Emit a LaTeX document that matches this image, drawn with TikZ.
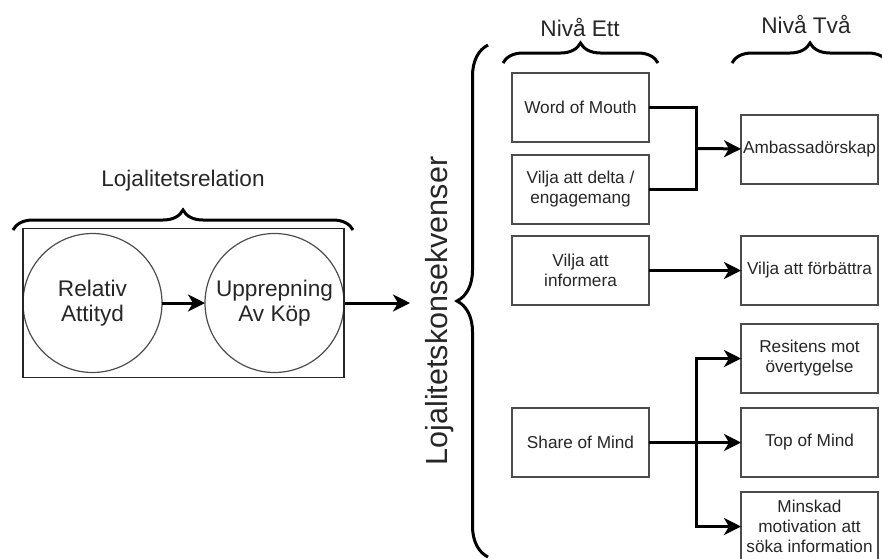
\documentclass[tikz,border=0pt]{standalone}
\usepackage{fontspec}
\setmainfont{Liberation Sans}
\usepackage{xcolor}
\usepackage{tikz}
\usetikzlibrary{arrows.meta,positioning,fit,calc,decorations.pathreplacing}
\tikzset{
  lvlbox/.style={draw=black!70, line width=1.2pt, align=center, minimum width=137pt, minimum height=69pt, inner sep=2pt, outer sep=0pt, text=black!85, font=\fontsize{17.2}{20}\selectfont},
  stage/.style={circle, draw=black!70, line width=1.2pt, align=center, minimum size=139pt, inner sep=0pt, outer sep=0pt, text=black!85, font=\fontsize{22.6}{25}\selectfont},
  groupframe/.style={draw=black!85, line width=1.2pt, inner xsep=0pt, inner ysep=5pt},
  heading/.style={text=black!85, font=\fontsize{22.6}{26}\selectfont},
  link/.style={line width=3pt},
  arrow/.style={-{Stealth[length=17pt, width=17pt, inset=5pt]}, line width=3pt},
  bracket/.style={decorate, decoration={brace, amplitude=#1}, line width=3pt},
  bracket/.default=20pt
}

\begin{document}
\begin{tikzpicture}[x=1pt, y=-1pt]
  \useasboundingbox (0,0) rectangle (882,558);
  \clip (0,0) rectangle (882,558);

  % loyalty relation
  \node[stage] (attityd) at (92.5,303) {Relativ\\Attityd};
  \node[stage, right=43pt of attityd] (kop) {Upprepning\\Av Köp};
  \node[groupframe, fit=(attityd)(kop)] (relbox) {};
  \node[heading] (relation) at (183,181) {Lojalitetsrelation};
  \draw[bracket] (13,230) -- (353,230);

  \draw[arrow] (attityd) -- (kop);
  \coordinate (into) at (410,303);
  \draw[arrow] (relbox) -- (into);

  % consequences
  \node[heading, rotate=90, font=\fontsize{30.5}{34}\selectfont] (konsek) at (440,311) {Lojalitetskonsekvenser};
  \draw[bracket=31pt] (488,557) -- (488,45);

  \node[heading] (ett) at (580,27) {Nivå Ett};
  \node[heading] (tva) at (806,24) {Nivå Två};
  \draw[bracket] (503,63) -- (658,63);
  \draw[bracket] (732,63) -- (888,63);

  % level one
  \node[lvlbox] (wom) at (580.5,107.5) {Word of Mouth};
  \node[lvlbox, below=13pt of wom] (delta) {Vilja att delta /\\engagemang};
  \node[lvlbox, below=12pt of delta] (informera) {Vilja att\\informera};
  \node[lvlbox, below=103pt of informera] (share) {Share of Mind};

  % level two
  \node[lvlbox, right=92pt of informera] (forbattra) {Vilja att förbättra};
  \node[lvlbox, above=52pt of forbattra] (ambassad) {Ambassadörskap};
  \node[lvlbox, right=92pt of share] (topmind) {Top of Mind};
  \node[lvlbox, above=15pt of topmind] (resitens) {Resitens mot\\övertygelse};
  \node[lvlbox, below=15pt of topmind] (minskad) {Minskad\\motivation att\\söka information};

  % connections
  \coordinate (hub1) at ($(wom.east)!.5!(delta.east)+(47,0)$);
  \coordinate[right=47pt of share] (hub2);
  \draw[link] (wom) -| (hub1);
  \draw[link] (delta) -| (hub1);
  \draw[arrow] (hub1) -- (ambassad);
  \draw[arrow] (informera) -- (forbattra);
  \draw[link] (share) -- (hub2);
  \draw[arrow] (hub2) |- (resitens);
  \draw[arrow] (hub2) -- (topmind);
  \draw[arrow] (hub2) |- (minskad);
\end{tikzpicture}
\end{document}
